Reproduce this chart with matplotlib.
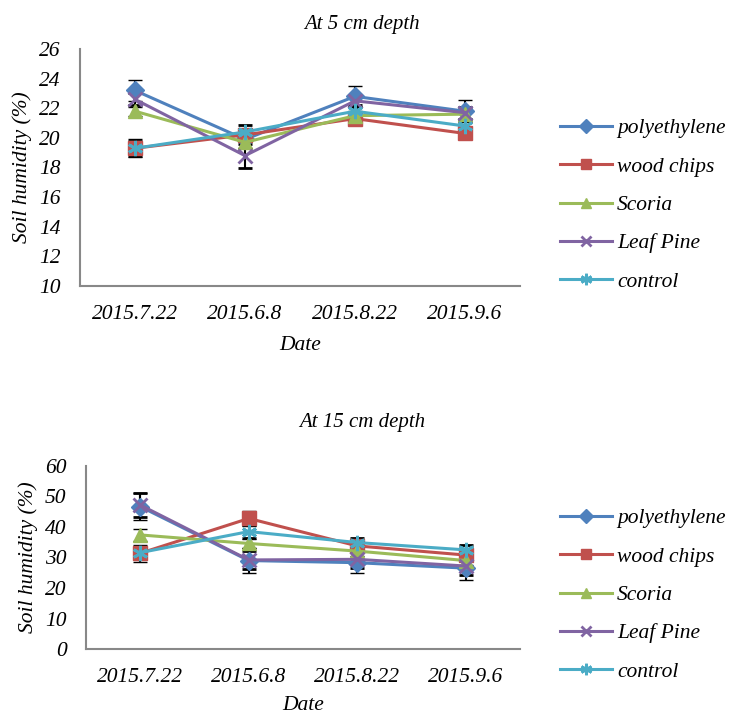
import numpy as np
import matplotlib
matplotlib.use("Agg")
import matplotlib.pyplot as plt

plt.rcParams['font.family'] = ['Liberation Serif', 'DejaVu Serif']
plt.rcParams['font.style'] = 'italic'

dates = ['2015.7.22', '2015.6.8', '2015.8.22', '2015.9.6']
series = ['polyethylene', 'wood chips', 'Scoria', 'Leaf Pine', 'control']

# soil humidity at 5 cm
d5_poly = [23.2, 19.9, 22.8, 21.8]
d5_wood = [19.3, 20.2, 21.3, 20.3]
d5_scoria = [21.8, 19.7, 21.5, 21.6]
d5_pine = [22.6, 18.8, 22.5, 21.7]
d5_control = [19.3, 20.4, 21.8, 20.8]
e5_poly = [0.7, 0.6, 0.7, 0.75]
e5_wood = [0.6, 0.4, 0.3, 0.3]
e5_scoria = [0.3, 0.4, 0.3, 0.3]
e5_pine = [0.4, 0.8, 0.4, 0.4]
e5_control = [0.5, 0.5, 0.4, 0.4]

# soil humidity at 15 cm
d15_poly = [46.7, 29.0, 28.3, 26.5]
d15_wood = [31.4, 42.8, 33.8, 30.8]
d15_scoria = [37.4, 34.6, 32.1, 29.0]
d15_pine = [47.2, 29.2, 29.4, 27.2]
d15_control = [31.6, 38.5, 34.9, 32.5]
e15_poly = [4.5, 4.2, 3.5, 3.9]
e15_wood = [2.8, 2.5, 2.0, 2.0]
e15_scoria = [1.9, 1.5, 1.5, 1.5]
e15_pine = [4.0, 3.0, 3.0, 3.0]
e15_control = [2.0, 2.0, 1.5, 1.5]

colors = ['#4F81BD', '#C0504D', '#9BBB59', '#8064A2', '#4BACC6']
markers = ['D', 's', '^', 'x', (6, 2, 0)]
msizes = [9.5, 10, 10, 10, 11]

W, H = 729, 716
fig = plt.figure(figsize=(W / 100, H / 100), dpi=100)


def draw(rect, vals, errs, ylim, yticks, title, title_y, leg_y, xlabpad):
    ax = fig.add_axes([rect[0] / W, 1 - rect[3] / H, (rect[2] - rect[0]) / W, (rect[3] - rect[1]) / H])
    x = np.arange(len(dates))
    for v, e, c, m, ms, name in zip(vals, errs, colors, markers, msizes, series):
        ax.errorbar(x, v, yerr=e, color=c, ecolor='black', elinewidth=1.5, capsize=5,
                    capthick=1.5, lw=2.2, marker=m, ms=ms, mew=2 if m in ('x', (6, 2, 0)) else 1,
                    mec=c, label=name)
    ax.set_xlim(-0.5, len(dates) - 0.5)
    ax.set_ylim(*ylim)
    ax.set_yticks(yticks)
    ax.set_xticks(x)
    ax.set_xticklabels(dates)
    ax.tick_params(length=0, labelsize=15.5)
    ax.tick_params(axis='y', pad=14)
    ax.tick_params(axis='x', pad=14)
    for s in ('top', 'right'):
        ax.spines[s].set_visible(False)
    for s in ('left', 'bottom'):
        ax.spines[s].set_color('#888888')
        ax.spines[s].set_linewidth(1.5)
    ax.set_xlabel('Date', fontsize=15.5, labelpad=xlabpad)
    ax.set_ylabel('Soil humidity (%)', fontsize=15.5, labelpad=5)
    fig.text(362 / W, 1 - title_y / H, title, ha='center', va='center', fontsize=15)
    handles, labels = ax.get_legend_handles_labels()
    handles = [h[0] for h in handles]
    ax.legend(handles, labels, loc='center left', bbox_to_anchor=(560 / W, 1 - leg_y / H),
              bbox_transform=fig.transFigure, frameon=False, fontsize=15.5, handlelength=2.4,
              labelspacing=0.85, handletextpad=0.25, markerscale=0.75,
              borderpad=0, borderaxespad=0)
    return ax


draw((80, 49, 520, 286), [d5_poly, d5_wood, d5_scoria, d5_pine, d5_control],
     [e5_poly, e5_wood, e5_scoria, e5_pine, e5_control], (10, 26), range(10, 27, 2),
     'At 5 cm depth', 24, 205, 8)
draw((86, 466, 520, 649), [d15_poly, d15_wood, d15_scoria, d15_pine, d15_control],
     [e15_poly, e15_wood, e15_scoria, e15_pine, e15_control], (0, 60), range(0, 61, 10),
     'At 15 cm depth', 423, 595, 6.5)

fig.savefig('out.png', dpi=100)
